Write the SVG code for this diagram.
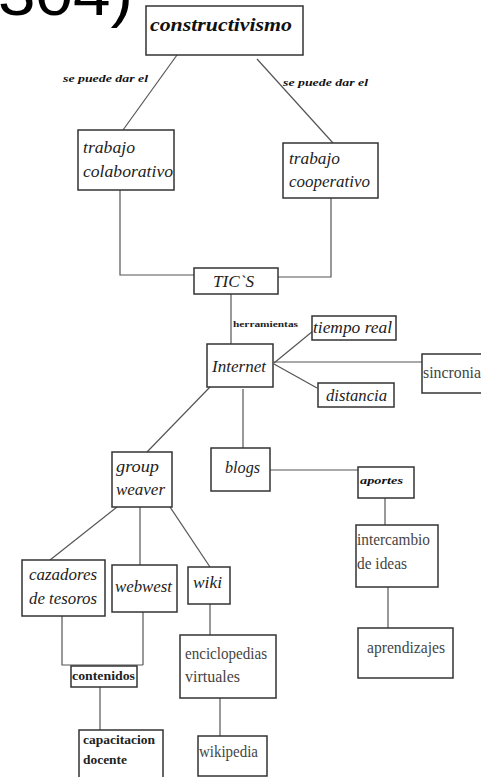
<svg xmlns="http://www.w3.org/2000/svg" width="481" height="777" viewBox="0 0 481 777">
<style>
.box{fill:#fff;stroke:#333;stroke-width:1.5}
.ln{fill:none;stroke:#555;stroke-width:1.2}
.it{font-family:"Liberation Serif","DejaVu Serif",serif;font-style:italic;font-size:16px;fill:#222}
.bi{font-family:"Liberation Serif","DejaVu Serif",serif;font-style:italic;font-weight:bold;fill:#111}
.rg{font-family:"Liberation Serif","DejaVu Serif",serif;font-size:16px;fill:#444}
.bd{font-family:"Liberation Serif","DejaVu Serif",serif;font-weight:bold;fill:#222}
</style>
<rect width="481" height="777" fill="#fff"/>
<text x="-2" y="15" font-family="Liberation Sans, Arial, sans-serif" font-size="62" fill="#000" textLength="135" lengthAdjust="spacingAndGlyphs">304)</text>
<g id="connectors">
<line class="ln" x1="177" y1="55" x2="123" y2="130"/>
<line class="ln" x1="257" y1="59" x2="333" y2="143"/>
<polyline class="ln" points="120,190 120,275 194,275"/>
<polyline class="ln" points="331,198 331,277 278,277"/>
<line class="ln" x1="231" y1="294" x2="231" y2="344"/>
<line class="ln" x1="274" y1="363" x2="313" y2="331"/>
<line class="ln" x1="274" y1="362" x2="422" y2="362"/>
<line class="ln" x1="274" y1="364" x2="317" y2="388"/>
<line class="ln" x1="210" y1="387" x2="147" y2="452"/>
<line class="ln" x1="243" y1="389" x2="243" y2="448"/>
<line class="ln" x1="270" y1="470" x2="358" y2="470"/>
<line class="ln" x1="385" y1="498" x2="385" y2="525"/>
<line class="ln" x1="388" y1="587" x2="388" y2="628"/>
<line class="ln" x1="117" y1="507" x2="50" y2="560"/>
<line class="ln" x1="140" y1="507" x2="140" y2="565"/>
<line class="ln" x1="170" y1="507" x2="210" y2="567"/>
<polyline class="ln" points="62,616 62,665 143,665"/>
<line class="ln" x1="143" y1="612" x2="143" y2="665"/>
<line class="ln" x1="100" y1="687" x2="100" y2="730"/>
<line class="ln" x1="210" y1="604" x2="210" y2="635"/>
<line class="ln" x1="220" y1="698" x2="220" y2="736"/>
<text class="bi" x="63" y="82" font-size="10" textLength="85" lengthAdjust="spacingAndGlyphs">se puede dar el</text>
<text class="bi" x="283" y="86" font-size="10" textLength="85" lengthAdjust="spacingAndGlyphs">se puede dar el</text>
<text class="bd" x="233" y="327" font-size="9" textLength="65" lengthAdjust="spacingAndGlyphs">herramientas</text>
</g>
<g id="constructivismo"><rect class="box" x="146" y="6" width="157" height="49"/><text class="bi" x="150" y="31" font-size="19" textLength="142" lengthAdjust="spacingAndGlyphs">constructivismo</text></g>
<g id="colaborativo"><rect class="box" x="78" y="130" width="96" height="60"/><text class="it" x="83" y="153" textLength="52" lengthAdjust="spacingAndGlyphs">trabajo</text><text class="it" x="83" y="177" textLength="90" lengthAdjust="spacingAndGlyphs">colaborativo</text></g>
<g id="cooperativo"><rect class="box" x="283" y="143" width="95" height="55"/><text class="it" x="289" y="164" textLength="51" lengthAdjust="spacingAndGlyphs">trabajo</text><text class="it" x="289" y="187" textLength="81" lengthAdjust="spacingAndGlyphs">cooperativo</text></g>
<g id="tics"><rect class="box" x="194" y="268" width="84" height="26"/><text class="it" x="213" y="287" textLength="41" lengthAdjust="spacingAndGlyphs">TIC`S</text></g>
<g id="internet"><rect class="box" x="207" y="344" width="66" height="43"/><text class="it" x="212" y="372" textLength="54" lengthAdjust="spacingAndGlyphs">Internet</text></g>
<g id="tiempo"><rect class="box" x="312" y="316" width="84" height="24"/><text class="it" x="313" y="333" textLength="79" lengthAdjust="spacingAndGlyphs">tiempo real</text></g>
<g id="sincronia"><rect class="box" x="422" y="354" width="60" height="39"/><text class="rg" x="423" y="378" font-size="14" textLength="58" lengthAdjust="spacingAndGlyphs">sincronia</text></g>
<g id="distancia"><rect class="box" x="318" y="383" width="76" height="24"/><text class="it" x="326" y="401" textLength="61" lengthAdjust="spacingAndGlyphs">distancia</text></g>
<g id="groupweaver"><rect class="box" x="112" y="452" width="60" height="55"/><text class="it" x="116" y="472" textLength="43" lengthAdjust="spacingAndGlyphs">group</text><text class="it" x="116" y="495" textLength="49" lengthAdjust="spacingAndGlyphs">weaver</text></g>
<g id="blogs"><rect class="box" x="211" y="448" width="59" height="43"/><text class="it" x="225" y="473" textLength="35" lengthAdjust="spacingAndGlyphs">blogs</text></g>
<g id="aportes"><rect class="box" x="358" y="467" width="56" height="31"/><text class="bi" x="360" y="484" font-size="11" textLength="43" lengthAdjust="spacingAndGlyphs">aportes</text></g>
<g id="intercambio"><rect class="box" x="356" y="525" width="82" height="62"/><text class="rg" x="357" y="545" textLength="73" lengthAdjust="spacingAndGlyphs">intercambio</text><text class="rg" x="357" y="569" textLength="50" lengthAdjust="spacingAndGlyphs">de ideas</text></g>
<g id="aprendizajes"><rect class="box" x="358" y="628" width="95" height="50"/><text class="rg" x="367" y="653" textLength="78" lengthAdjust="spacingAndGlyphs">aprendizajes</text></g>
<g id="cazadores"><rect class="box" x="22" y="560" width="83" height="56"/><text class="it" x="29" y="580" textLength="68" lengthAdjust="spacingAndGlyphs">cazadores</text><text class="it" x="29" y="604" textLength="68" lengthAdjust="spacingAndGlyphs">de tesoros</text></g>
<g id="webwest"><rect class="box" x="112" y="565" width="65" height="47"/><text class="it" x="115" y="592" textLength="57" lengthAdjust="spacingAndGlyphs">webwest</text></g>
<g id="wiki"><rect class="box" x="188" y="567" width="42" height="37"/><text class="it" x="193" y="588" textLength="29" lengthAdjust="spacingAndGlyphs">wiki</text></g>
<g id="contenidos"><rect class="box" x="71" y="666" width="66" height="21"/><text class="bd" x="72" y="680" font-size="12" textLength="63" lengthAdjust="spacingAndGlyphs">contenidos</text></g>
<g id="capacitacion"><rect class="box" x="79" y="730" width="84" height="50"/><text class="bd" x="83" y="744" font-size="12" textLength="72" lengthAdjust="spacingAndGlyphs">capacitacion</text><text class="bd" x="83" y="764" font-size="12" textLength="44" lengthAdjust="spacingAndGlyphs">docente</text></g>
<g id="enciclopedias"><rect class="box" x="180" y="635" width="96" height="63"/><text class="rg" x="185" y="659" textLength="82" lengthAdjust="spacingAndGlyphs">enciclopedias</text><text class="rg" x="185" y="682" textLength="55" lengthAdjust="spacingAndGlyphs">virtuales</text></g>
<g id="wikipedia"><rect class="box" x="198" y="736" width="69" height="40"/><text class="rg" x="199" y="757" textLength="59" lengthAdjust="spacingAndGlyphs">wikipedia</text></g>
</svg>
